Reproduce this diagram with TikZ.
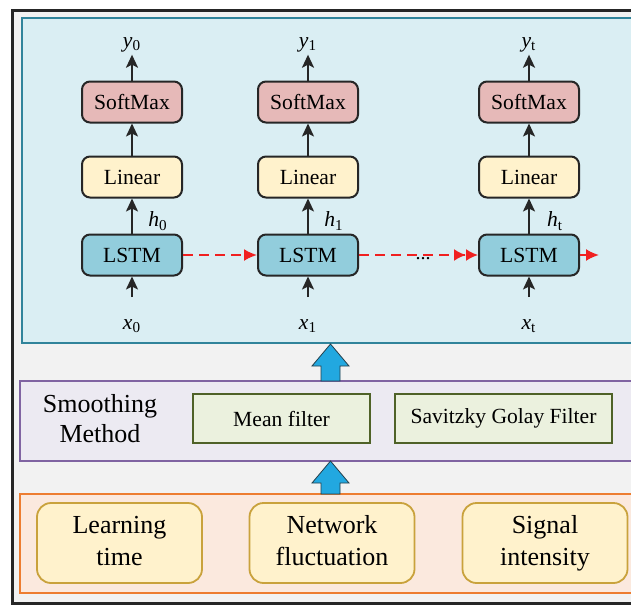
\documentclass[tikz,border=0pt]{standalone}
\usepackage{fontspec}
\setmainfont{Liberation Serif}
\usetikzlibrary{arrows.meta}

\definecolor{bggray}{HTML}{F2F2F2}
\definecolor{framedark}{HTML}{262626}
\definecolor{tealline}{HTML}{31849B}
\definecolor{tealfill}{HTML}{DAEEF3}
\definecolor{purpleline}{HTML}{8064A2}
\definecolor{purplefill}{HTML}{ECEAF2}
\definecolor{orangeline}{HTML}{ED7D31}
\definecolor{orangefill}{HTML}{FBE9DE}
\definecolor{lstmfill}{HTML}{92CDDC}
\definecolor{softfill}{HTML}{E6B9B8}
\definecolor{linfill}{HTML}{FFF2CC}
\definecolor{greenline}{HTML}{4F6228}
\definecolor{greenfill}{HTML}{EBF1DE}
\definecolor{goldline}{HTML}{C9A23C}
\definecolor{recurred}{HTML}{F02020}
\definecolor{arrowblue}{HTML}{22A8E0}

\tikzset{
  cell/.style={draw=framedark, line width=1pt, rounded corners=4pt,
    minimum width=50pt, minimum height=20.5pt, font=\fontsize{10.8}{12}\selectfont},
  lstm/.style={cell, fill=lstmfill},
  softmax/.style={cell, fill=softfill},
  linear/.style={cell, fill=linfill},
  filterbox/.style={draw=greenline, fill=greenfill, line width=1pt,
    minimum height=24.5pt, font=\fontsize{10.8}{12}\selectfont},
  factor/.style={draw=goldline, fill=linfill, line width=0.9pt, rounded corners=7pt,
    minimum width=82.5pt, minimum height=40pt, align=center,
    font=\fontsize{13}{16}\selectfont},
  lbl/.style={inner sep=1pt, font=\fontsize{10.8}{12}\selectfont},
  flow/.style={->, line width=1pt, draw=framedark},
  recur/.style={line width=1pt, draw=recurred, dash pattern=on 5pt off 3pt,
    -{Latex[length=6.5pt,width=6pt]}},
  blockarrow/.style={draw=framedark!80!arrowblue, fill=arrowblue, line width=0.4pt}
}

\begin{document}
\begin{tikzpicture}[x=0.5pt, y=-0.5pt, >={Stealth[length=6.5pt,width=6pt,inset=1.5pt]}]
        \clip (0,0) rectangle (631,605);
        % frames
        \draw[line width=1.5pt, draw=framedark, fill=bggray] (12,10) rectangle (680,603);
        \draw[line width=1pt, draw=tealline, fill=tealfill] (22,18) rectangle (680,343);
        \draw[line width=1pt, draw=purpleline, fill=purplefill] (20,381) rectangle (680,461);
        \draw[line width=1pt, draw=orangeline, fill=orangefill] (20,494) rectangle (680,593);

        % LSTM columns
        \foreach \cx/\i in {132/0, 308/1, 529/t} {
            \node[lstm] (lstm\i) at (\cx,255) {LSTM};
            \node[linear] (lin\i) at (\cx,177) {Linear};
            \node[softmax] (soft\i) at (\cx,102) {SoftMax};
            \node[lbl] (y\i) at (\cx,45) {\textit{y}\textsubscript{\i}};
            \node[lbl] (x\i) at (\cx,326) {\textit{x}\textsubscript{\i}};
            \node[lbl] (h\i) at (\cx+26,221) {\textit{h}\textsubscript{\i}};
            \coordinate (xin\i) at (\cx,297);
            \draw[flow] (soft\i) -- (y\i);
            \draw[flow] (lin\i) -- (soft\i);
            \draw[flow] (lstm\i) -- (lin\i);
            \draw[flow] (xin\i) -- (lstm\i);
        }
        \draw[recur] (lstm0) -- (lstm1);
        \draw[recur, -{Latex[length=6pt,width=6pt] Latex[length=6pt,width=6pt]}] (lstm1) -- (lstmt);
        \node[inner sep=0pt, font=\normalsize] (dots) at (423,259) {...};
        \coordinate (hout) at (599,255);
        \draw[recur, solid] (lstmt) -- (hout);

        % smoothing layer
        \node[align=center, font=\fontsize{13}{15}\selectfont] (smooth) at (100,419) {Smoothing\\Method};
        \node[filterbox, minimum width=88.5pt] (mean) at (281.5,418.5) {Mean filter};
        \node[filterbox, minimum width=108.5pt] (sg) at (503.5,418.5) {Savitzky Golay Filter};

        % input factors
        \node[factor] (learn) at (119.5,543) {Learning\strut\\time\strut};
        \node[factor] (net) at (332,543) {Network\strut\\fluctuation\strut};
        \node[factor] (signal) at (545,543) {Signal\strut\\intensity\strut};

        % block arrows
        \foreach \tip/\base in {344/381, 461/494} {
            \draw[blockarrow] (321,\base) -- (321,\tip+22) -- (312,\tip+22) -- (330.5,\tip)
                -- (349,\tip+22) -- (340,\tip+22) -- (340,\base) -- cycle;
        }
    \end{tikzpicture}
\end{document}
